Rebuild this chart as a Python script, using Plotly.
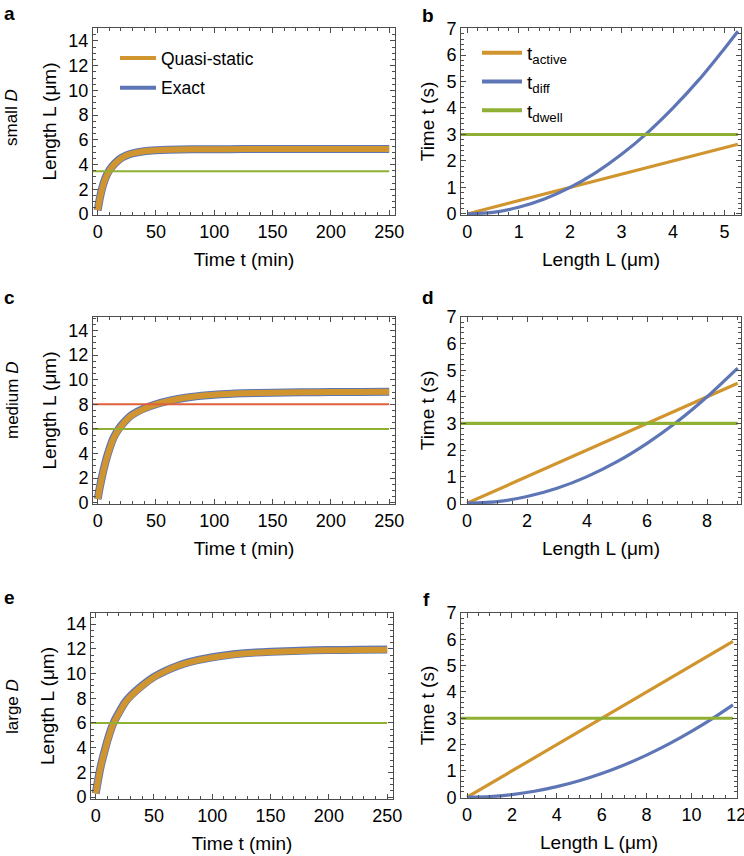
import plotly.graph_objects as go

# ---------------- data ----------------
# panel a (small D): length vs time
t_a = [0, 2, 4, 6, 8, 10, 15, 20, 25, 30, 40, 50, 60, 80, 100, 125, 150, 175, 200, 225, 250]
L_a_quasi = [0.3, 1.3, 2.1, 2.7, 3.15, 3.5, 4.1, 4.5, 4.75, 4.9, 5.08, 5.16, 5.2, 5.23, 5.24, 5.25, 5.25, 5.25, 5.25, 5.25, 5.25]
L_a_exact = [0.3, 1.35, 2.15, 2.75, 3.2, 3.55, 4.12, 4.52, 4.76, 4.91, 5.08, 5.16, 5.2, 5.23, 5.24, 5.25, 5.25, 5.25, 5.25, 5.25, 5.25]
a_green = [3.46, 3.46]

# panel c (medium D)
t_c = [0, 2, 4, 6, 8, 10, 13, 16, 18, 20, 25, 30, 40, 50, 60, 70, 80, 100, 125, 150, 175, 200, 225, 250]
L_c_quasi = [0.3, 1.3, 2.2, 3.0, 3.7, 4.3, 5.1, 5.65, 5.95, 6.2, 6.75, 7.15, 7.65, 8.0, 8.25, 8.45, 8.6, 8.78, 8.9, 8.95, 8.98, 9.0, 9.01, 9.02]
L_c_exact = [0.3, 1.35, 2.25, 3.05, 3.75, 4.35, 5.15, 5.7, 6.0, 6.25, 6.78, 7.18, 7.67, 8.01, 8.26, 8.45, 8.6, 8.78, 8.9, 8.95, 8.98, 9.0, 9.01, 9.02]
c_green = [6.0, 6.0]
c_red = [8.0, 8.0]

# panel e (large D)
t_e = [0, 2, 4, 6, 8, 10, 13, 16, 20, 25, 30, 40, 50, 60, 70, 80, 100, 125, 150, 175, 200, 225, 250]
L_e_quasi = [0.3, 1.3, 2.3, 3.1, 3.8, 4.5, 5.4, 6.1, 6.8, 7.6, 8.15, 9.0, 9.7, 10.2, 10.6, 10.9, 11.3, 11.6, 11.75, 11.83, 11.88, 11.9, 11.92]
L_e_exact = [0.3, 1.35, 2.35, 3.15, 3.85, 4.55, 5.45, 6.15, 6.85, 7.65, 8.2, 9.05, 9.73, 10.22, 10.62, 10.92, 11.32, 11.62, 11.77, 11.85, 11.9, 11.92, 11.94]
e_green = [6.0, 6.0]

t_hline = [-4, 250]

# panel b (small D): times vs length
L_b = [0, 0.5, 1, 1.5, 2, 2.5, 3, 3.5, 4, 4.5, 5, 5.26]
b_active = [0, 0.25, 0.5, 0.75, 1.0, 1.25, 1.5, 1.75, 2.0, 2.25, 2.5, 2.63]
b_diff = [0, 0.06, 0.25, 0.56, 1.0, 1.56, 2.25, 3.06, 4.0, 5.06, 6.25, 6.9]
b_dwell_L = [-0.12, 5.26]
b_dwell = [3, 3]

# panel d (medium D)
L_d = [0, 1, 2, 3, 4, 5, 6, 7, 8, 9.02]
d_active = [0, 0.5, 1.0, 1.5, 2.0, 2.5, 3.0, 3.5, 4.0, 4.51]
d_diff = [0, 0.06, 0.25, 0.56, 1.0, 1.56, 2.25, 3.06, 4.0, 5.08]
d_dwell_L = [-0.2, 9.02]
d_dwell = [3, 3]

# panel f (large D)
L_f = [0, 1, 2, 3, 4, 5, 6, 7, 8, 9, 10, 11, 11.85]
f_active = [0, 0.5, 1.0, 1.5, 2.0, 2.5, 3.0, 3.5, 4.0, 4.5, 5.0, 5.5, 5.92]
f_diff = [0, 0.025, 0.1, 0.225, 0.4, 0.625, 0.9, 1.225, 1.6, 2.025, 2.5, 3.025, 3.51]
f_dwell_L = [-0.27, 11.85]
f_dwell = [3, 3]

# ---------------- style ----------------
ORANGE = "#D0952E"
BLUE = "#5E76B5"
GREEN = "#8FB032"
RED = "#E0603A"
FRAME = "#4d4d4d"
FONT = "Liberation Sans, Arial, sans-serif"

fig = go.Figure()

def add_len_panel(xa, ya, t, lq, le, hlines):
    fig.add_trace(go.Scatter(x=t, y=le, mode="lines", line=dict(color=BLUE, width=8, shape="spline", smoothing=0.5),
                             xaxis=xa, yaxis=ya, showlegend=False, hoverinfo="skip"))
    fig.add_trace(go.Scatter(x=t, y=lq, mode="lines", line=dict(color=ORANGE, width=6, shape="spline", smoothing=0.5),
                             xaxis=xa, yaxis=ya, showlegend=False, hoverinfo="skip"))
    for yv, col in hlines:
        fig.add_trace(go.Scatter(x=t_hline, y=yv, mode="lines", line=dict(color=col, width=2),
                                 xaxis=xa, yaxis=ya, showlegend=False, hoverinfo="skip"))

def add_time_panel(xa, ya, L, act, diff, dl, dw):
    fig.add_trace(go.Scatter(x=L, y=act, mode="lines", line=dict(color=ORANGE, width=3.2),
                             xaxis=xa, yaxis=ya, showlegend=False, hoverinfo="skip"))
    fig.add_trace(go.Scatter(x=L, y=diff, mode="lines", line=dict(color=BLUE, width=3.2, shape="spline", smoothing=0.6),
                             xaxis=xa, yaxis=ya, showlegend=False, hoverinfo="skip"))
    fig.add_trace(go.Scatter(x=dl, y=dw, mode="lines", line=dict(color=GREEN, width=3.2),
                             xaxis=xa, yaxis=ya, showlegend=False, hoverinfo="skip"))

add_len_panel("x", "y", t_a, L_a_quasi, L_a_exact, [(a_green, GREEN)])
add_time_panel("x2", "y2", L_b, b_active, b_diff, b_dwell_L, b_dwell)
add_len_panel("x3", "y3", t_c, L_c_quasi, L_c_exact, [(c_red, RED), (c_green, GREEN)])
add_time_panel("x4", "y4", L_d, d_active, d_diff, d_dwell_L, d_dwell)
add_len_panel("x5", "y5", t_e, L_e_quasi, L_e_exact, [(e_green, GREEN)])
add_time_panel("x6", "y6", L_f, f_active, f_diff, f_dwell_L, f_dwell)

# legend entries (panel a)
for name, col, grp in [("Quasi-static", ORANGE, "q"), ("Exact", BLUE, "e")]:
    fig.add_trace(go.Scatter(x=[None], y=[None], mode="lines", name=name, legendgroup=grp,
                             line=dict(color=col, width=4), xaxis="x", yaxis="y", legend="legend"))
# legend entries (panel b)
for name, col, grp in [("t<sub>active</sub>", ORANGE, "ta"), ("t<sub>diff</sub>", BLUE, "td"),
                       ("t<sub>dwell</sub>", GREEN, "tw")]:
    fig.add_trace(go.Scatter(x=[None], y=[None], mode="lines", name=name, legendgroup=grp,
                             line=dict(color=col, width=4), xaxis="x2", yaxis="y2", legend="legend2"))

W, H = 744, 856

def dom_x(l, r):
    return [l / W, r / W]

def dom_y(top, bot):
    return [(H - bot) / H, (H - top) / H]

def axis(domain, rng, dtick, minor_dtick, title, anchor, standoff):
    return dict(domain=domain, range=rng, dtick=dtick, tick0=0, anchor=anchor, automargin=False,
                showline=True, mirror="allticks", linecolor=FRAME, linewidth=1,
                ticks="inside", ticklen=5, tickwidth=1, tickcolor=FRAME, ticklabeloverflow="allow",
                minor=dict(ticks="inside", ticklen=3, dtick=minor_dtick, tick0=0, tickcolor=FRAME, tickwidth=1, showgrid=False),
                showgrid=False, zeroline=False,
                tickfont=dict(family=FONT, size=18, color="black"),
                title=dict(text=title, font=dict(family=FONT, size=19, color="black"), standoff=standoff))

TIME_MIN = "Time t (min)"
LEN_UM = "Length L (μm)"
TIME_S = "Time t (s)"

layout = dict(
    width=W, height=H, margin=dict(l=0, r=0, t=0, b=0, autoexpand=False),
    paper_bgcolor="white", plot_bgcolor="white",
    font=dict(family=FONT, color="black"),
    xaxis=axis(dom_x(93, 395), [-4, 255], 50, 10, TIME_MIN, "y", 12),
    yaxis=axis(dom_y(28, 215), [-0.08, 15.05], 2, 0.5, LEN_UM, "x", 6),
    xaxis2=axis(dom_x(461, 741), [-0.12, 5.32], 1, 0.2, LEN_UM, "y2", 12),
    yaxis2=axis(dom_y(28, 215), [-0.04, 7.02], 1, 0.2, TIME_S, "x2", 6),
    xaxis3=axis(dom_x(93, 395), [-4, 255], 50, 10, TIME_MIN, "y3", 12),
    yaxis3=axis(dom_y(317, 504), [-0.1, 15.1], 2, 0.5, LEN_UM, "x3", 6),
    xaxis4=axis(dom_x(461, 741), [-0.2, 9.13], 2, 0.5, LEN_UM, "y4", 12),
    yaxis4=axis(dom_y(317, 504), [-0.03, 7.0], 1, 0.2, TIME_S, "x4", 6),
    xaxis5=axis(dom_x(91, 393), [-4, 255], 50, 10, TIME_MIN, "y5", 12),
    yaxis5=axis(dom_y(613, 799), [-0.15, 14.9], 2, 0.5, LEN_UM, "x5", 6),
    xaxis6=axis(dom_x(461, 737), [-0.27, 12.03], 2, 0.5, LEN_UM, "y6", 12),
    yaxis6=axis(dom_y(613, 798), [-0.03, 7.0], 1, 0.2, TIME_S, "x6", 6),
    legend=dict(x=115 / W, y=(H - 40) / H, xanchor="left", yanchor="top", bgcolor="rgba(0,0,0,0)",
                font=dict(family=FONT, size=17.5, color="black"), tracegroupgap=4, borderwidth=0,
                itemwidth=36),
    legend2=dict(x=477 / W, y=(H - 34) / H, xanchor="left", yanchor="top", bgcolor="rgba(0,0,0,0)",
                 font=dict(family=FONT, size=19, color="black"), tracegroupgap=1, borderwidth=0,
                 itemwidth=40),
    showlegend=True,
)
fig.update_layout(**layout)

# panel letters
for txt, x, y in [("a", 9, 13), ("b", 428, 15), ("c", 9, 297), ("d", 428, 298), ("e", 9, 597), ("f", 426, 599)]:
    fig.add_annotation(text=f"<b>{txt}</b>", x=x / W, y=(H - y) / H, xref="paper", yref="paper",
                       showarrow=False, font=dict(family=FONT, size=19, color="black"),
                       xanchor="center", yanchor="middle")

# row labels
for txt, y in [("small <i>D</i>", 118), ("medium <i>D</i>", 401), ("large <i>D</i>", 707)]:
    fig.add_annotation(text=txt, x=12 / W, y=(H - y) / H, xref="paper", yref="paper", textangle=-90,
                       showarrow=False, font=dict(family=FONT, size=17, color="black"),
                       xanchor="center", yanchor="middle")

fig.write_html("out.html", config={"displayModeBar": False},
               post_script="document.body.style.margin='0';document.body.style.overflow='hidden';")
